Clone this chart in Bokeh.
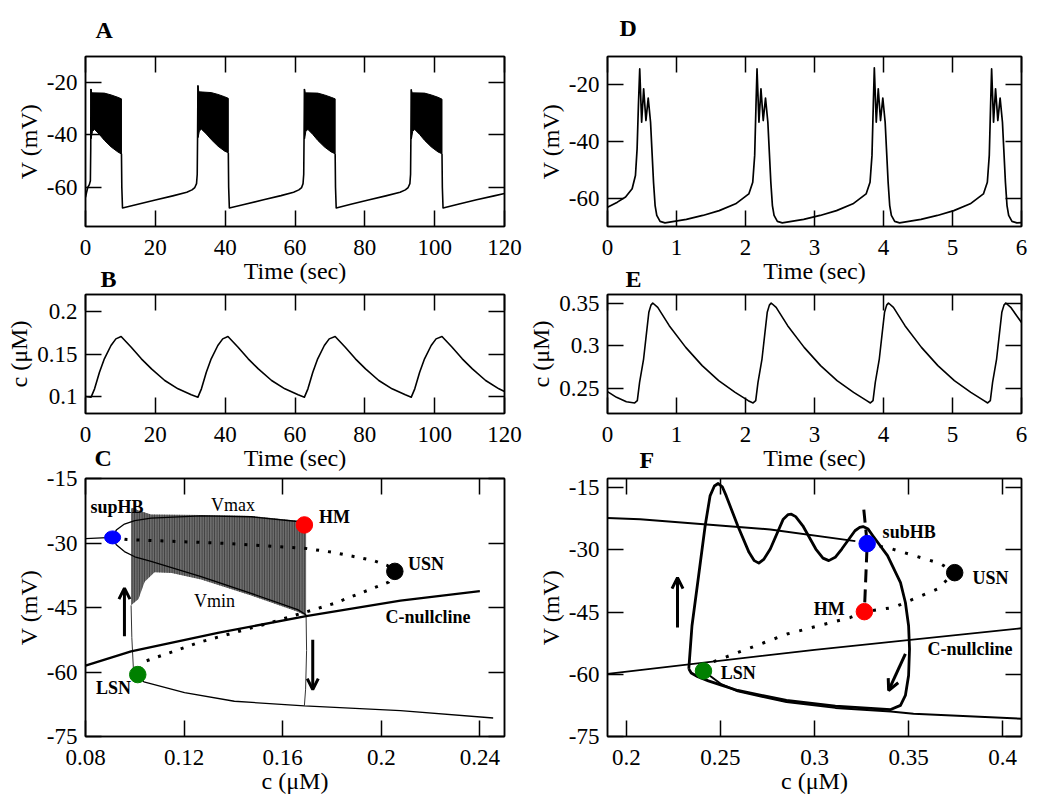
from bokeh.plotting import figure
from bokeh.models import Range1d, LinearAxis, FixedTicker, Label, Arrow, OpenHead, Title
from bokeh.layouts import column, row
from bokeh.embed import file_html
from bokeh.resources import INLINE

FONT = "Liberation Serif"

# ---------------- Panel A : V(t), slow bursting ----------------
A_trace_t = [
    [0, 0.3, 0.67, 1.1, 1.4, 1.5, 1.55],
    [10.3, 10.4, 10.6, 15, 20, 25, 29, 30.5, 31.3, 31.8, 32.0, 32.1, 32.2],
    [40.9, 41.0, 41.2, 46, 51, 56, 59.6, 61.1, 61.9, 62.3, 62.5, 62.6, 62.7],
    [71.5, 71.6, 71.8, 76, 81, 86, 90.1, 91.6, 92.4, 92.9, 93.1, 93.2, 93.3],
    [102.1, 102.2, 102.4, 107, 112, 117, 120],
]
A_trace_v = [
    [-63.8, -62.0, -60.0, -59.0, -57.5, -45.0, -22.4],
    [-47.2, -60.0, -67.9, -66.5, -64.9, -63.3, -61.9, -61.0, -60.1, -58.6, -55.0, -40.0, -21.1],
    [-46.8, -60.0, -67.9, -66.4, -64.8, -63.2, -61.9, -61.0, -60.1, -58.6, -55.0, -40.0, -22.4],
    [-47.2, -60.0, -67.9, -66.5, -64.9, -63.3, -61.9, -61.0, -60.1, -58.6, -55.0, -40.0, -22.6],
    [-47.2, -60.0, -67.9, -66.4, -64.8, -63.3, -62.4],
]
A_burst_t = [
    [1.55, 1.8, 5.4, 7.35, 9.26, 10.3, 10.3, 9.26, 7.35, 5.44, 4.0, 2.6, 2.0, 1.6],
    [32.2, 32.45, 36.0, 37.95, 39.86, 40.9, 40.9, 39.86, 37.95, 36.04, 34.6, 33.2, 32.6, 32.25],
    [62.7, 62.95, 66.5, 68.45, 70.36, 71.5, 71.5, 70.36, 68.45, 66.54, 65.1, 63.7, 63.1, 62.75],
    [93.3, 93.55, 97.1, 99.05, 100.96, 102.1, 102.1, 100.96, 99.05, 97.14, 95.7, 94.3, 93.7, 93.35],
]
A_burst_v = [
    [-22.4, -23.9, -24.0, -24.7, -25.6, -26.2, -47.3, -46.5, -44.6, -42.1, -39.8, -37.9, -38.6, -41.5],
    [-21.1, -23.5, -23.8, -24.5, -25.4, -26.0, -46.8, -46.2, -44.3, -41.8, -39.6, -37.8, -38.5, -41.0],
    [-22.4, -23.9, -24.0, -24.7, -25.6, -26.2, -47.2, -46.5, -44.6, -42.1, -39.8, -37.9, -38.6, -41.5],
    [-22.6, -23.9, -24.0, -24.7, -25.6, -26.3, -47.2, -46.5, -44.6, -42.1, -39.8, -37.9, -38.6, -41.5],
]

# ---------------- Panel B : c(t) ----------------
B_t = [0, 1.6, 2.6, 4.0, 5.4, 7.3, 8.7, 10.2, 13.1, 16.0, 18.9, 22.7, 26.5, 30.3, 32.2,
       33.2, 34.6, 36.0, 37.9, 39.3, 40.8, 43.7, 46.6, 49.5, 53.3, 57.1, 60.9, 62.7,
       63.7, 65.1, 66.5, 68.4, 69.8, 71.5, 74.4, 77.3, 80.2, 84.0, 87.8, 91.6, 93.3,
       94.3, 95.7, 97.1, 99.0, 100.4, 102.1, 105.0, 107.9, 110.8, 114.6, 118.4, 120.0]
B_c = [0.100, 0.0992, 0.109, 0.1286, 0.1443, 0.160, 0.1678, 0.1706, 0.158, 0.1443, 0.1325, 0.1188, 0.109, 0.102, 0.0992,
       0.109, 0.1286, 0.1443, 0.160, 0.1678, 0.1706, 0.158, 0.1443, 0.1325, 0.1188, 0.109, 0.102, 0.0992,
       0.109, 0.1286, 0.1443, 0.160, 0.1678, 0.1706, 0.158, 0.1443, 0.1325, 0.1188, 0.109, 0.102, 0.0992,
       0.109, 0.1286, 0.1443, 0.160, 0.1678, 0.1706, 0.158, 0.1443, 0.1325, 0.1188, 0.109, 0.106]

# ---------------- Panel D : V(t), pseudo-plateau bursting ----------------
D_t = [0, 0.143, 0.262, 0.357, 0.405, 0.429, 0.448, 0.467, 0.495, 0.524, 0.557, 0.590, 0.624, 0.643, 0.667,
       0.690, 0.714, 0.762, 0.833, 1.143, 1.381, 1.619, 1.857, 2.048, 2.105, 2.133, 2.152,
       2.167, 2.195, 2.224, 2.257, 2.290, 2.324, 2.343, 2.367, 2.390, 2.414, 2.462, 2.533, 2.843, 3.081,
       3.319, 3.557, 3.748, 3.805, 3.833, 3.852,
       3.867, 3.895, 3.924, 3.957, 3.990, 4.024, 4.043, 4.067, 4.090, 4.114, 4.162, 4.233, 4.543, 4.781,
       5.019, 5.257, 5.448, 5.505, 5.533, 5.552,
       5.567, 5.595, 5.624, 5.657, 5.690, 5.724, 5.743, 5.767, 5.790, 5.814, 5.862, 5.933, 6.0]
D_v = [-63.2, -61.4, -59.6, -56.7, -52.0, -42.6, -27.3, -14.4, -33.2, -21.4, -32.6, -24.7, -33.2, -42.6, -54.4,
       -62.6, -66.1, -68.2, -68.7, -67.5, -66.1, -64.4, -62.0, -58.5, -54.4, -44.9, -27.3,
       -14.4, -33.2, -21.4, -32.6, -24.7, -33.2, -42.6, -54.4, -62.6, -66.1, -68.2, -68.7, -67.5, -66.1,
       -64.4, -62.0, -58.5, -54.4, -44.9, -27.3,
       -14.0, -33.2, -21.4, -32.6, -24.7, -33.2, -42.6, -54.4, -62.6, -66.1, -68.2, -68.7, -67.5, -66.1,
       -64.4, -62.0, -58.5, -54.4, -44.9, -27.3,
       -14.4, -33.2, -21.4, -32.6, -24.7, -33.2, -42.6, -54.4, -62.6, -66.1, -68.2, -68.7, -68.6]

# ---------------- Panel E : c(t) ----------------
E_t = [0, 0.131, 0.274, 0.394, 0.432, 0.465, 0.523, 0.561, 0.599, 0.630, 0.656, 0.728, 0.895, 1.134, 1.372,
       1.611, 1.85, 2.04, 2.11,
       2.148, 2.181, 2.239, 2.277, 2.315, 2.346, 2.372, 2.444, 2.611, 2.85, 3.088, 3.327, 3.566, 3.756, 3.81,
       3.848, 3.881, 3.939, 3.977, 4.015, 4.046, 4.072, 4.144, 4.311, 4.55, 4.788, 5.027, 5.266, 5.456, 5.51,
       5.548, 5.581, 5.639, 5.677, 5.715, 5.746, 5.772, 5.844, 5.93, 6.0]
E_c = [0.2457, 0.239, 0.2339, 0.2324, 0.2351, 0.2567, 0.2841, 0.3116, 0.339, 0.3475, 0.350, 0.3449, 0.3233, 0.2978, 0.2763,
       0.2586, 0.2449, 0.2351, 0.2324,
       0.2351, 0.2567, 0.2841, 0.3116, 0.339, 0.3475, 0.350, 0.3449, 0.3233, 0.2978, 0.2763, 0.2586, 0.2449, 0.2351, 0.2324,
       0.2351, 0.2567, 0.2841, 0.3116, 0.339, 0.3475, 0.350, 0.3449, 0.3233, 0.2978, 0.2763, 0.2586, 0.2449, 0.2351, 0.2324,
       0.2351, 0.2567, 0.2841, 0.3116, 0.339, 0.3475, 0.350, 0.3449, 0.335, 0.327]

# ---------------- Panel C : fast-slow analysis, plateau bursting ----------------
C_stab_up_c = [0.08, 0.091]
C_stab_up_v = [-29.0, -28.7]
C_vmax_c = [0.091, 0.0925, 0.0958, 0.1, 0.1066, 0.1269, 0.1472, 0.1661, 0.1688]
C_vmax_v = [-28.7, -27.0, -25.6, -24.8, -24.2, -23.7, -23.9, -25.0, -25.8]
C_vmin_c = [0.091, 0.0925, 0.0958, 0.1, 0.1066, 0.1269, 0.1472, 0.1661, 0.1695]
C_vmin_v = [-28.7, -30.4, -32.0, -33.2, -34.3, -37.8, -41.7, -45.5, -46.7]
C_unst_c = [0.091, 0.0969, 0.1375, 0.1686, 0.1807, 0.197, 0.2024, 0.2055]
C_unst_v = [-28.7, -29.2, -30.1, -31.2, -32.2, -34.1, -35.2, -36.6]
C_saddle_c = [0.2055, 0.203, 0.1807, 0.1537, 0.1267, 0.1037, 0.1012]
C_saddle_v = [-36.6, -39.1, -44.1, -48.75, -53.0, -57.6, -60.6]
C_low_c = [0.1012, 0.1037, 0.1202, 0.1404, 0.1688, 0.2078, 0.2454]
C_low_v = [-60.6, -62.3, -64.8, -66.8, -67.9, -69.0, -70.7]
C_null_c = [0.08, 0.0985, 0.1337, 0.1695, 0.2078, 0.24]
C_null_v = [-58.5, -55.2, -50.9, -47.0, -43.4, -41.2]
C_burst_c = [0.0985, 0.0995, 0.1010, 0.1066, 0.1269, 0.1472, 0.1661, 0.1695,
             0.1695, 0.1661, 0.1472, 0.1269, 0.115, 0.108, 0.104, 0.1015, 0.0985]
C_burst_v = [-22.0, -21.8, -22.3, -23.4, -23.5, -23.7, -24.8, -25.4,
             -47.0, -46.0, -42.2, -38.5, -37.0, -36.8, -39.0, -43.0, -44.5]
C_jump_c = [0.0995, 0.0988, 0.0985]
C_jump_v = [-60.0, -52.0, -44.5]
C_drop_c = [0.1695, 0.1697, 0.1693, 0.1688]
C_drop_v = [-46.7, -55.0, -64.0, -67.9]
C_pts_c = [0.1688, 0.2055, 0.1012]
C_pts_v = [-25.8, -36.6, -60.6]
C_pts_col = ["#ff0000", "#000000", "#008000"]
C_hb_c = [0.091]
C_hb_v = [-28.7]

# ---------------- Panel F : fast-slow analysis, pseudo-plateau bursting ----------------
F_up_c = [0.19, 0.2073, 0.2765, 0.3217]
F_up_v = [-22.3, -22.6, -25.1, -27.9]
F_dash_c = [0.3262, 0.328, 0.3265]
F_dash_v = [-20.3, -28.5, -44.9]
F_dot1_c = [0.328, 0.3412, 0.3669, 0.3745, 0.3652, 0.342, 0.3265]
F_dot1_v = [-28.5, -29.8, -33.3, -35.5, -39.45, -43.9, -44.9]
F_dot2_c = [0.3265, 0.3191, 0.2854, 0.2455, 0.241]
F_dot2_v = [-44.9, -46.3, -50.3, -57.1, -59.2]
F_low_c = [0.241, 0.2505, 0.2592, 0.2851, 0.3111, 0.3405, 0.3526, 0.41]
F_low_v = [-59.2, -62.4, -64.1, -66.7, -68.1, -69.0, -69.5, -70.7]
F_null_c = [0.19, 0.30, 0.41]
F_null_v = [-59.9, -54.1, -48.9]
F_loop_c = [0.2332, 0.2349, 0.2384, 0.2419, 0.2445, 0.2468, 0.2488, 0.2510, 0.2531, 0.2592, 0.2652, 0.2680,
            0.2704, 0.2730, 0.2765, 0.2834, 0.2860, 0.2877, 0.2900, 0.2938, 0.3007, 0.3045, 0.3076, 0.3110,
            0.3145, 0.3215, 0.3240, 0.3258, 0.3285, 0.331, 0.3388, 0.3457, 0.3483, 0.35, 0.3505, 0.35, 0.3483,
            0.3457, 0.3405, 0.3111, 0.2851, 0.2592, 0.2505, 0.2436, 0.2380, 0.2345, 0.2332]
F_loop_v = [-58.7, -48.3, -36.3, -24.2, -17.0, -14.6, -14.0, -14.8, -17.0, -24.2, -30.6, -32.6,
            -33.2, -32.3, -29.8, -22.6, -21.5, -21.4, -22.0, -24.2, -29.8, -32.0, -32.6, -31.8,
            -29.8, -25.4, -24.6, -24.4, -25.0, -26.6, -31.4, -37.9, -42.7, -48.3, -53.9, -60.3, -65.1,
            -67.5, -68.5, -67.7, -66.3, -63.9, -62.6, -61.6, -60.6, -59.7, -58.7]
F_pts_c = [0.328, 0.3265, 0.3745, 0.241]
F_pts_v = [-28.5, -44.9, -35.5, -59.2]
F_pts_col = ["#0000ff", "#ff0000", "#000000", "#008000"]

# ---------------- ticks ----------------
T120_ticks = [0, 20, 40, 60, 80, 100, 120]
T120_labels = ["0", "20", "40", "60", "80", "100", "120"]
T6_ticks = [0, 1, 2, 3, 4, 5, 6]
T6_labels = ["0", "1", "2", "3", "4", "5", "6"]
VA_ticks = [-60, -40, -20]
VA_labels = ["-60", "-40", "-20"]
CB_ticks = [0.1, 0.15, 0.2]
CB_labels = ["0.1", "0.15", "0.2"]
CE_ticks = [0.25, 0.3, 0.35]
CE_labels = ["0.25", "0.3", "0.35"]
VC_ticks = [-75, -60, -45, -30, -15]
VC_labels = ["-75", "-60", "-45", "-30", "-15"]
XC_ticks = [0.08, 0.12, 0.16, 0.2, 0.24]
XC_labels = ["0.08", "0.12", "0.16", "0.2", "0.24"]
XF_ticks = [0.2, 0.25, 0.3, 0.35, 0.4]
XF_labels = ["0.2", "0.25", "0.3", "0.35", "0.4"]


def make_fig(width, height, borders, xr, yr, xt, xl, yt, yl, xlabel, ylabel):
    p = figure(width=width, height=height, x_range=Range1d(*xr), y_range=Range1d(*yr),
               x_axis_type=None, y_axis_type=None, toolbar_location=None, output_backend="svg",
               min_border_left=borders[0], min_border_right=borders[1],
               min_border_top=borders[2], min_border_bottom=borders[3])
    p.outline_line_color = "black"
    p.outline_line_width = 1.5
    p.background_fill_color = "white"
    p.border_fill_color = None
    for loc, ticks, labels, title in (("below", xt, xl, xlabel), ("left", yt, yl, ylabel),
                                      ("above", xt, None, None), ("right", yt, None, None)):
        ax = LinearAxis(ticker=FixedTicker(ticks=ticks, minor_ticks=[]))
        ax.major_tick_in = 16
        ax.major_tick_out = 0
        ax.minor_tick_in = 0
        ax.minor_tick_out = 0
        ax.major_tick_line_width = 1.5
        ax.major_tick_line_color = "black"
        ax.axis_line_width = 1.5
        ax.axis_line_color = "black"
        if labels is None:
            ax.major_label_overrides = {t: "" for t in ticks}
            ax.major_label_text_font_size = "0px"
            ax.major_label_standoff = 0
        else:
            ax.major_label_overrides = dict(zip(ticks, labels))
            ax.major_label_text_font = FONT
            ax.major_label_text_font_size = "23px"
            ax.major_label_text_color = "black"
            ax.axis_label = title
            ax.axis_label_text_font = FONT
            ax.axis_label_text_font_size = "24px"
            ax.axis_label_text_font_style = "normal"
            ax.axis_label_text_color = "black"
            if loc == "below":
                ax.major_label_standoff = 13
                ax.axis_label_standoff = 0
            else:
                ax.major_label_standoff = 8
                ax.axis_label_standoff = 2
        p.add_layout(ax, loc)
    return p


def letter(p, txt, offset, standoff):
    p.add_layout(Title(text=txt, align="left", offset=offset, standoff=standoff,
                       text_font=FONT, text_font_size="24px", text_font_style="bold",
                       text_color="black"), "above")


def note(p, x, y, txt, bold=True, align="left"):
    p.add_layout(Label(x=x, y=y, text=txt, text_font=FONT, text_font_size="18px",
                       text_font_style="bold" if bold else "normal", text_align=align,
                       text_baseline="middle", text_color="black"))


def arrow(p, x0, y0, x1, y1):
    p.add_layout(Arrow(end=OpenHead(size=11, line_width=3, line_color="black"),
                       x_start=x0, y_start=y0, x_end=x1, y_end=y1,
                       line_width=3, line_color="black"))


LEFT_B = (85, 21)
RIGHT_B = (82, 10)
LW, RW = 525, 506

# Row 1 : A, D   (canvas -16..288, frame 56..226)
pA = make_fig(LW, 304, LEFT_B + (72, 62), (0, 120), (-75, -10), T120_ticks, T120_labels,
              VA_ticks, VA_labels, "Time (sec)", "V (mV)")
pA.patches(A_burst_t, A_burst_v, fill_color="black", line_color="black", line_width=1)
pA.multi_line(A_trace_t, A_trace_v, line_color="black", line_width=1.6, line_join="round")
letter(pA, "A", 10, 28)

pD = make_fig(RW, 304, RIGHT_B + (72, 62), (0, 6), (-70, -10), T6_ticks, T6_labels,
              VA_ticks, VA_labels, "Time (sec)", "V (mV)")
pD.line(D_t, D_v, line_color="black", line_width=1.7, line_join="round")
letter(pD, "D", 12, 31)

# Row 2 : B, E   (canvas 254..475, frame 294..413)
pB = make_fig(LW, 221, LEFT_B + (40, 62), (0, 120), (0.08, 0.22), T120_ticks, T120_labels,
              CB_ticks, CB_labels, "Time (sec)", "c (\u03bcM)")
pB.line(B_t, B_c, line_color="black", line_width=1.6, line_join="round")
letter(pB, "B", 15, 6)

pE = make_fig(RW, 221, RIGHT_B + (40, 62), (0, 6), (0.22, 0.36), T6_ticks, T6_labels,
              CE_ticks, CE_labels, "Time (sec)", "c (\u03bcM)")
pE.line(E_t, E_c, line_color="black", line_width=1.6, line_join="round")
letter(pE, "E", 18, 6)

# Row 3 : C, F   (canvas 432..798, frame 478..736)
pC = make_fig(LW, 366, LEFT_B + (46, 62), (0.08, 0.25), (-75, -15), XC_ticks, XC_labels,
              VC_ticks, VC_labels, "c (\u03bcM)", "V (mV)")
pC.patch(C_burst_c, C_burst_v, fill_color="#6c6c6c", line_color=None,
         hatch_pattern="|", hatch_color="#303030", hatch_scale=2.5, hatch_weight=0.8)
pC.line(C_stab_up_c, C_stab_up_v, line_color="black", line_width=1.3)
pC.line(C_vmax_c, C_vmax_v, line_color="black", line_width=1.3)
pC.line(C_vmin_c, C_vmin_v, line_color="black", line_width=1.3)
pC.line(C_low_c, C_low_v, line_color="black", line_width=1.3)
pC.line(C_jump_c, C_jump_v, line_color="#333333", line_width=1.0)
pC.line(C_drop_c, C_drop_v, line_color="#333333", line_width=1.0)
pC.line(C_null_c, C_null_v, line_color="black", line_width=2.3)
pC.line(C_unst_c, C_unst_v, line_color="black", line_width=3, line_dash="3 9")
pC.line(C_saddle_c, C_saddle_v, line_color="black", line_width=3, line_dash="3 9")
pC.ellipse(C_hb_c, C_hb_v, width=16, height=13, width_units="screen", height_units="screen",
           fill_color="#0000ff", line_color="#0000ff")
pC.scatter(C_pts_c, C_pts_v, size=16.5, fill_color=C_pts_col, line_color=C_pts_col)
arrow(pC, 0.0958, -51.7, 0.0958, -40.5)
arrow(pC, 0.1722, -52.5, 0.1722, -64.1)
note(pC, 0.082, -21.6, "supHB")
note(pC, 0.1398, -21.2, "Vmax", bold=False, align="center")
note(pC, 0.1747, -24.0, "HM")
note(pC, 0.2108, -34.8, "USN")
note(pC, 0.1323, -43.6, "Vmin", bold=False, align="center")
note(pC, 0.2017, -47.1, "C-nullcline")
note(pC, 0.0843, -63.7, "LSN")
letter(pC, "C", 9, 16)

pF = make_fig(RW, 366, RIGHT_B + (46, 62), (0.19, 0.41), (-75, -12.8), XF_ticks, XF_labels,
              VC_ticks, VC_labels, "c (\u03bcM)", "V (mV)")
pF.line(F_up_c, F_up_v, line_color="black", line_width=2.0)
pF.line(F_low_c, F_low_v, line_color="black", line_width=2.0)
pF.line(F_null_c, F_null_v, line_color="black", line_width=1.8)
pF.line(F_loop_c, F_loop_v, line_color="black", line_width=2.8, line_join="round")
pF.line(F_dash_c, F_dash_v, line_color="black", line_width=3, line_dash="13 7")
pF.line(F_dot1_c, F_dot1_v, line_color="black", line_width=3, line_dash="3 10")
pF.line(F_dot2_c, F_dot2_v, line_color="black", line_width=3, line_dash="3 10")
pF.scatter(F_pts_c, F_pts_v, size=16.5, fill_color=F_pts_col, line_color=F_pts_col)
arrow(pF, 0.2272, -48.7, 0.2272, -36.7)
arrow(pF, 0.3483, -55.1, 0.3394, -63.9)
note(pF, 0.3362, -25.6, "subHB")
note(pF, 0.384, -36.7, "USN")
note(pF, 0.3161, -44.3, "HM", align="right")
note(pF, 0.36, -53.9, "C-nullcline")
note(pF, 0.2502, -59.8, "LSN")
letter(pF, "F", 32, 12)

layout = column(row(pA, pD, margin=(-16, 0, 0, 0)),
                row(pB, pE, margin=(-34, 0, 0, 0)),
                row(pC, pF, margin=(-43, 0, 0, 0)))
open("out.html", "w").write(file_html(layout, INLINE))
